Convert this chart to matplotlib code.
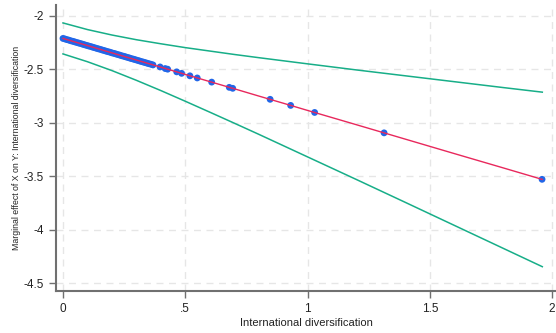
import matplotlib.pyplot as plt

plt.rcParams['font.family'] = ['Liberation Sans', 'DejaVu Sans']

# observed values of international diversification and the effect at each (markers)
obs_x = [0.000, 0.008, 0.016, 0.024, 0.032, 0.040, 0.048, 0.056, 0.064, 0.072,
         0.080, 0.088, 0.096, 0.104, 0.112, 0.120, 0.128, 0.136, 0.144, 0.152,
         0.160, 0.168, 0.176, 0.184, 0.192, 0.200, 0.208, 0.216, 0.224, 0.232,
         0.240, 0.248, 0.256, 0.264, 0.272, 0.280, 0.288, 0.296, 0.304, 0.312,
         0.320, 0.328, 0.336, 0.344, 0.352, 0.360, 0.368,
         0.397, 0.418, 0.428, 0.465, 0.485, 0.519, 0.549, 0.608, 0.680, 0.694,
         0.847, 0.931, 1.029, 1.313, 1.959]
obs_y = [-2.210, -2.215, -2.221, -2.226, -2.232, -2.237, -2.242, -2.248, -2.253, -2.258,
         -2.264, -2.269, -2.275, -2.280, -2.285, -2.291, -2.296, -2.302, -2.307, -2.312,
         -2.318, -2.323, -2.329, -2.334, -2.339, -2.345, -2.350, -2.355, -2.361, -2.366,
         -2.372, -2.377, -2.382, -2.388, -2.393, -2.399, -2.404, -2.409, -2.415, -2.420,
         -2.426, -2.431, -2.436, -2.442, -2.447, -2.452, -2.458,
         -2.477, -2.492, -2.498, -2.523, -2.537, -2.560, -2.580, -2.619, -2.668, -2.677,
         -2.780, -2.837, -2.903, -3.094, -3.529]

# marginal effect and confidence bounds read along the x grid
grid_x = [0.0, 0.1, 0.2, 0.3, 0.4, 0.5, 0.6, 0.7, 0.8, 0.9, 1.0, 1.2, 1.4, 1.6, 1.8, 1.96]
effect = [-2.210, -2.277, -2.345, -2.412, -2.479, -2.547, -2.614, -2.681,
          -2.749, -2.816, -2.884, -3.018, -3.153, -3.288, -3.422, -3.530]
upper = [-2.065, -2.127, -2.178, -2.222, -2.260, -2.296, -2.328, -2.360,
         -2.390, -2.419, -2.448, -2.505, -2.560, -2.615, -2.670, -2.713]
lower = [-2.355, -2.428, -2.511, -2.602, -2.698, -2.798, -2.900, -3.003,
         -3.107, -3.213, -3.319, -3.531, -3.745, -3.960, -4.175, -4.347]

xticks = [0, 0.5, 1, 1.5, 2]
xtick_labels = ['0', '.5', '1', '1.5', '2']
yticks = [-2, -2.5, -3, -3.5, -4, -4.5]
ytick_labels = ['-2', '-2.5', '-3', '-3.5', '-4', '-4.5']

fig = plt.figure(figsize=(5.56, 3.33), dpi=100)
ax = fig.add_axes([0.1007, 0.126, 0.8993, 0.859])

ax.plot(grid_x, upper, color='#17ae88', lw=1.1, zorder=3)
ax.plot(grid_x, lower, color='#17ae88', lw=1.1, zorder=3)
ax.scatter(obs_x, obs_y, s=24, color='#2166e8', edgecolors='none', zorder=4)
ax.plot(grid_x, effect, color='#e8285c', lw=1.0, zorder=5)

ax.set_xlim(-0.0286, 2.016)
ax.set_ylim(-4.575, -1.897)
ax.set_xticks(xticks)
ax.set_xticklabels(xtick_labels)
ax.set_yticks(yticks)
ax.set_yticklabels(ytick_labels)

ax.grid(True, color='#e6e6e6', linestyle=(0, (5, 4)), lw=1.0)
ax.set_axisbelow(True)
for s in ['top', 'right']:
    ax.spines[s].set_visible(False)
for s in ['left', 'bottom']:
    ax.spines[s].set_color('#707070')
    ax.spines[s].set_linewidth(1.5)
ax.tick_params(colors='#707070', labelcolor='#222222', labelsize=8.5, length=5, width=1.0)

ax.set_xlabel('International diversification', fontsize=8, color='#222222', labelpad=2)
ax.set_ylabel('Marginal effect of X on Y: International diversification', fontsize=6.3,
              color='#222222', labelpad=2)

fig.savefig('out.png', dpi=100)
